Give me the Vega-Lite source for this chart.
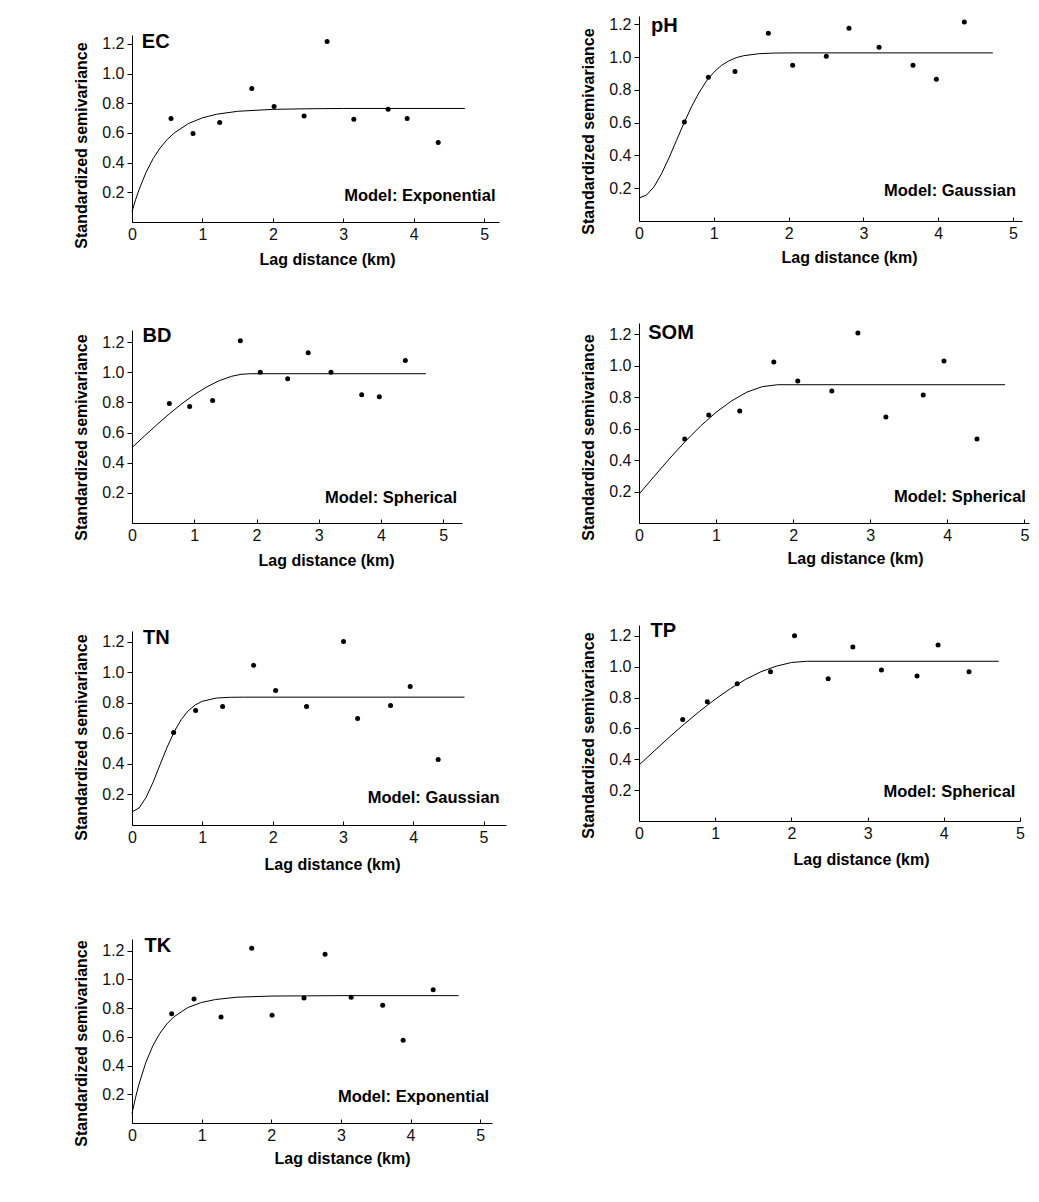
{
"$schema": "https://vega.github.io/schema/vega-lite/v6.json",
"background": "white",
"padding": {"left": 72, "top": 16, "right": 5, "bottom": 5},
"config": {
  "view": {"stroke": null},
  "axis": {"grid": false, "domainColor": "#000", "tickColor": "#000", "domainWidth": 1, "tickWidth": 1,
    "labelFont": "Liberation Sans", "labelFontSize": 16, "labelColor": "#111",
    "titleFont": "Liberation Sans", "titleFontSize": 16, "titleFontWeight": "bold", "titleColor": "#000", "labelOverlap": false},
  "axisX": {"labelFlush": false, "tickSize": -4, "labelPadding": 8, "titleAlign": "center", "titleBaseline": "alphabetic"},
  "axisY": {"tickSize": 5, "labelPadding": 3, "titleX": -46, "titleBaseline": "alphabetic", "titleAlign": "center"}
},
"datasets": {
  "points": [
    {"v":"EC","x":0.554,"y":0.697},{"v":"EC","x":0.866,"y":0.596},{"v":"EC","x":1.245,"y":0.670},{"v":"EC","x":1.70,"y":0.90},{"v":"EC","x":2.017,"y":0.778},{"v":"EC","x":2.443,"y":0.715},{"v":"EC","x":2.77,"y":1.217},{"v":"EC","x":3.149,"y":0.693},{"v":"EC","x":3.636,"y":0.76},{"v":"EC","x":3.906,"y":0.697},{"v":"EC","x":4.347,"y":0.535},
    {"v":"pH","x":0.606,"y":0.603},{"v":"pH","x":0.927,"y":0.876},{"v":"pH","x":1.283,"y":0.912},{"v":"pH","x":1.729,"y":1.145},{"v":"pH","x":2.054,"y":0.949},{"v":"pH","x":2.504,"y":1.004},{"v":"pH","x":2.807,"y":1.175},{"v":"pH","x":3.209,"y":1.059},{"v":"pH","x":3.663,"y":0.949},{"v":"pH","x":3.975,"y":0.864},{"v":"pH","x":4.349,"y":1.214},
    {"v":"BD","x":0.60,"y":0.792},{"v":"BD","x":0.926,"y":0.772},{"v":"BD","x":1.295,"y":0.813},{"v":"BD","x":1.74,"y":1.209},{"v":"BD","x":2.06,"y":0.999},{"v":"BD","x":2.50,"y":0.957},{"v":"BD","x":2.83,"y":1.129},{"v":"BD","x":3.196,"y":0.999},{"v":"BD","x":3.689,"y":0.851},{"v":"BD","x":3.972,"y":0.838},{"v":"BD","x":4.39,"y":1.077},
    {"v":"SOM","x":0.593,"y":0.534},{"v":"SOM","x":0.905,"y":0.686},{"v":"SOM","x":1.307,"y":0.711},{"v":"SOM","x":1.749,"y":1.022},{"v":"SOM","x":2.06,"y":0.902},{"v":"SOM","x":2.502,"y":0.838},{"v":"SOM","x":2.84,"y":1.206},{"v":"SOM","x":3.203,"y":0.673},{"v":"SOM","x":3.688,"y":0.813},{"v":"SOM","x":3.957,"y":1.029},{"v":"SOM","x":4.385,"y":0.534},
    {"v":"TN","x":0.592,"y":0.606},{"v":"TN","x":0.905,"y":0.75},{"v":"TN","x":1.289,"y":0.776},{"v":"TN","x":1.73,"y":1.045},{"v":"TN","x":2.043,"y":0.881},{"v":"TN","x":2.483,"y":0.776},{"v":"TN","x":3.009,"y":1.202},{"v":"TN","x":3.209,"y":0.698},{"v":"TN","x":3.678,"y":0.783},{"v":"TN","x":3.957,"y":0.907},{"v":"TN","x":4.355,"y":0.429},
    {"v":"TP","x":0.573,"y":0.658},{"v":"TP","x":0.896,"y":0.772},{"v":"TP","x":1.289,"y":0.889},{"v":"TP","x":1.726,"y":0.967},{"v":"TP","x":2.041,"y":1.2},{"v":"TP","x":2.483,"y":0.921},{"v":"TP","x":2.806,"y":1.128},{"v":"TP","x":3.182,"y":0.979},{"v":"TP","x":3.649,"y":0.94},{"v":"TP","x":3.925,"y":1.141},{"v":"TP","x":4.331,"y":0.967},
    {"v":"TK","x":0.57,"y":0.76},{"v":"TK","x":0.891,"y":0.862},{"v":"TK","x":1.279,"y":0.737},{"v":"TK","x":1.719,"y":1.216},{"v":"TK","x":2.011,"y":0.75},{"v":"TK","x":2.47,"y":0.87},{"v":"TK","x":2.773,"y":1.174},{"v":"TK","x":3.147,"y":0.874},{"v":"TK","x":3.6,"y":0.819},{"v":"TK","x":3.894,"y":0.575},{"v":"TK","x":4.325,"y":0.927}
  ],
  "model": [
    {"v":"EC","x":0,"y":0.07},{"v":"EC","x":0.05,"y":0.149},{"v":"EC","x":0.1,"y":0.218},{"v":"EC","x":0.2,"y":0.335},{"v":"EC","x":0.3,"y":0.427},{"v":"EC","x":0.4,"y":0.499},{"v":"EC","x":0.5,"y":0.556},{"v":"EC","x":0.6,"y":0.600},{"v":"EC","x":0.8,"y":0.663},{"v":"EC","x":1.0,"y":0.702},{"v":"EC","x":1.2,"y":0.726},{"v":"EC","x":1.5,"y":0.746},{"v":"EC","x":2.0,"y":0.759},{"v":"EC","x":2.5,"y":0.763},{"v":"EC","x":3.0,"y":0.765},{"v":"EC","x":4.725,"y":0.765},
    {"v":"pH","x":0,"y":0.14},{"v":"pH","x":0.1,"y":0.158},{"v":"pH","x":0.2,"y":0.208},{"v":"pH","x":0.3,"y":0.287},{"v":"pH","x":0.4,"y":0.384},{"v":"pH","x":0.5,"y":0.490},{"v":"pH","x":0.6,"y":0.596},{"v":"pH","x":0.7,"y":0.695},{"v":"pH","x":0.8,"y":0.781},{"v":"pH","x":0.9,"y":0.852},{"v":"pH","x":1.0,"y":0.907},{"v":"pH","x":1.1,"y":0.948},{"v":"pH","x":1.2,"y":0.976},{"v":"pH","x":1.3,"y":0.996},{"v":"pH","x":1.4,"y":1.008},{"v":"pH","x":1.6,"y":1.020},{"v":"pH","x":1.8,"y":1.024},{"v":"pH","x":2.0,"y":1.025},{"v":"pH","x":4.73,"y":1.025},
    {"v":"BD","x":0,"y":0.5},{"v":"BD","x":0.2,"y":0.577},{"v":"BD","x":0.4,"y":0.652},{"v":"BD","x":0.6,"y":0.724},{"v":"BD","x":0.8,"y":0.791},{"v":"BD","x":1.0,"y":0.851},{"v":"BD","x":1.2,"y":0.902},{"v":"BD","x":1.4,"y":0.944},{"v":"BD","x":1.6,"y":0.973},{"v":"BD","x":1.75,"y":0.986},{"v":"BD","x":1.9,"y":0.99},{"v":"BD","x":4.72,"y":0.99},
    {"v":"SOM","x":0,"y":0.183},{"v":"SOM","x":0.2,"y":0.298},{"v":"SOM","x":0.4,"y":0.411},{"v":"SOM","x":0.6,"y":0.518},{"v":"SOM","x":0.8,"y":0.616},{"v":"SOM","x":1.0,"y":0.703},{"v":"SOM","x":1.2,"y":0.775},{"v":"SOM","x":1.4,"y":0.831},{"v":"SOM","x":1.6,"y":0.866},{"v":"SOM","x":1.8,"y":0.878},{"v":"SOM","x":4.75,"y":0.878},
    {"v":"TN","x":0,"y":0.086},{"v":"TN","x":0.1,"y":0.111},{"v":"TN","x":0.2,"y":0.180},{"v":"TN","x":0.3,"y":0.280},{"v":"TN","x":0.4,"y":0.396},{"v":"TN","x":0.5,"y":0.510},{"v":"TN","x":0.6,"y":0.610},{"v":"TN","x":0.7,"y":0.690},{"v":"TN","x":0.8,"y":0.748},{"v":"TN","x":0.9,"y":0.786},{"v":"TN","x":1.0,"y":0.810},{"v":"TN","x":1.2,"y":0.831},{"v":"TN","x":1.4,"y":0.836},{"v":"TN","x":1.6,"y":0.837},{"v":"TN","x":4.73,"y":0.837},
    {"v":"TP","x":0,"y":0.362},{"v":"TP","x":0.2,"y":0.454},{"v":"TP","x":0.4,"y":0.544},{"v":"TP","x":0.6,"y":0.631},{"v":"TP","x":0.8,"y":0.713},{"v":"TP","x":1.0,"y":0.789},{"v":"TP","x":1.2,"y":0.858},{"v":"TP","x":1.4,"y":0.918},{"v":"TP","x":1.6,"y":0.967},{"v":"TP","x":1.8,"y":1.003},{"v":"TP","x":2.0,"y":1.027},{"v":"TP","x":2.2,"y":1.035},{"v":"TP","x":4.72,"y":1.035},
    {"v":"TK","x":0,"y":0.066},{"v":"TK","x":0.05,"y":0.175},{"v":"TK","x":0.1,"y":0.270},{"v":"TK","x":0.2,"y":0.423},{"v":"TK","x":0.3,"y":0.538},{"v":"TK","x":0.4,"y":0.624},{"v":"TK","x":0.5,"y":0.689},{"v":"TK","x":0.6,"y":0.738},{"v":"TK","x":0.8,"y":0.803},{"v":"TK","x":1.0,"y":0.839},{"v":"TK","x":1.2,"y":0.859},{"v":"TK","x":1.5,"y":0.875},{"v":"TK","x":2.0,"y":0.883},{"v":"TK","x":3.0,"y":0.886},{"v":"TK","x":4.69,"y":0.886}
  ],
  "labels": [
    {"v":"EC","k":"name","t":"EC","x":0.14,"y":1.17},{"v":"EC","k":"model","t":"Model: Exponential","x":5.16,"y":0.14},
    {"v":"pH","k":"name","t":"pH","x":0.16,"y":1.15},{"v":"pH","k":"model","t":"Model: Gaussian","x":5.04,"y":0.155},
    {"v":"BD","k":"name","t":"BD","x":0.17,"y":1.2},{"v":"BD","k":"model","t":"Model: Spherical","x":5.22,"y":0.134},
    {"v":"SOM","k":"name","t":"SOM","x":0.12,"y":1.168},{"v":"SOM","k":"model","t":"Model: Spherical","x":5.02,"y":0.132},
    {"v":"TN","k":"name","t":"TN","x":0.156,"y":1.186},{"v":"TN","k":"model","t":"Model: Gaussian","x":5.23,"y":0.145},
    {"v":"TP","k":"name","t":"TP","x":0.15,"y":1.19},{"v":"TP","k":"model","t":"Model: Spherical","x":4.94,"y":0.157},
    {"v":"TK","k":"name","t":"TK","x":0.18,"y":1.19},{"v":"TK","k":"model","t":"Model: Exponential","x":5.13,"y":0.147}
  ]
},
"spacing": 73,
"hconcat": [
  {"spacing": 63, "vconcat": [
    {"spacing": 0, "vconcat": [
      {"width": 1, "height": 16, "data": {"values": [{"a": 0}]}, "mark": {"type": "point", "opacity": 0}},
      {"bounds": "flush", "spacing": 108, "vconcat": [
        {"width": 367, "height": 187, "layer": [
          {"data": {"name": "model"}, "transform": [{"filter": "datum.v === 'EC'"}], "mark": {"type": "line", "color": "#000", "strokeWidth": 1},
           "encoding": {"x": {"field": "x", "type": "quantitative", "title": "Lag distance (km)", "scale": {"domain": [0, 5.21], "nice": false}, "axis": {"values": [0,0.5,1,1.5,2,2.5,3,3.5,4,4.5,5], "tickCount": 30, "format": "d", "labelExpr": "datum.value % 1 === 0 ? datum.label : ''", "labelOverlap": false, "titleX": 195, "titleY": 42}},
                        "y": {"field": "y", "type": "quantitative", "title": "Standardized semivariance", "scale": {"domain": [0, 1.26], "nice": false}, "axis": {"values": [0.2,0.4,0.6,0.8,1,1.2], "tickCount": 30, "format": ".1f", "labelOverlap": false, "titleY": 110}}}},
          {"data": {"name": "points"}, "transform": [{"filter": "datum.v === 'EC'"}], "mark": {"type": "circle", "color": "#000", "size": 25, "opacity": 1},
           "encoding": {"x": {"field": "x", "type": "quantitative", "title": "Lag distance (km)"}, "y": {"field": "y", "type": "quantitative", "title": "Standardized semivariance"}}},
          {"data": {"name": "labels"}, "transform": [{"filter": "datum.v === 'EC' && datum.k === 'name'"}], "mark": {"type": "text", "font": "Liberation Sans", "fontSize": 20, "fontWeight": "bold", "align": "left", "baseline": "alphabetic", "color": "#000"},
           "encoding": {"x": {"field": "x", "type": "quantitative", "title": "Lag distance (km)"}, "y": {"field": "y", "type": "quantitative", "title": "Standardized semivariance"}, "text": {"field": "t"}}},
          {"data": {"name": "labels"}, "transform": [{"filter": "datum.v === 'EC' && datum.k === 'model'"}], "mark": {"type": "text", "font": "Liberation Sans", "fontSize": 16.5, "fontWeight": "bold", "align": "right", "baseline": "alphabetic", "color": "#000"},
           "encoding": {"x": {"field": "x", "type": "quantitative", "title": "Lag distance (km)"}, "y": {"field": "y", "type": "quantitative", "title": "Standardized semivariance"}, "text": {"field": "t"}}}
        ]},
        {"width": 330, "height": 193, "layer": [
          {"data": {"name": "model"}, "transform": [{"filter": "datum.v === 'BD'"}], "mark": {"type": "line", "color": "#000", "strokeWidth": 1},
           "encoding": {"x": {"field": "x", "type": "quantitative", "title": "Lag distance (km)", "scale": {"domain": [0, 5.3], "nice": false}, "axis": {"values": [0,0.5,1,1.5,2,2.5,3,3.5,4,4.5,5], "tickCount": 30, "format": "d", "labelExpr": "datum.value % 1 === 0 ? datum.label : ''", "labelOverlap": false, "titleX": 194, "titleY": 42}},
                        "y": {"field": "y", "type": "quantitative", "title": "Standardized semivariance", "scale": {"domain": [0, 1.28], "nice": false}, "axis": {"values": [0.2,0.4,0.6,0.8,1,1.2], "tickCount": 30, "format": ".1f", "labelOverlap": false, "titleY": 107}}}},
          {"data": {"name": "points"}, "transform": [{"filter": "datum.v === 'BD'"}], "mark": {"type": "circle", "color": "#000", "size": 25, "opacity": 1},
           "encoding": {"x": {"field": "x", "type": "quantitative", "title": "Lag distance (km)"}, "y": {"field": "y", "type": "quantitative", "title": "Standardized semivariance"}}},
          {"data": {"name": "labels"}, "transform": [{"filter": "datum.v === 'BD' && datum.k === 'name'"}], "mark": {"type": "text", "font": "Liberation Sans", "fontSize": 20, "fontWeight": "bold", "align": "left", "baseline": "alphabetic", "color": "#000"},
           "encoding": {"x": {"field": "x", "type": "quantitative", "title": "Lag distance (km)"}, "y": {"field": "y", "type": "quantitative", "title": "Standardized semivariance"}, "text": {"field": "t"}}},
          {"data": {"name": "labels"}, "transform": [{"filter": "datum.v === 'BD' && datum.k === 'model'"}], "mark": {"type": "text", "font": "Liberation Sans", "fontSize": 16.5, "fontWeight": "bold", "align": "right", "baseline": "alphabetic", "color": "#000"},
           "encoding": {"x": {"field": "x", "type": "quantitative", "title": "Lag distance (km)"}, "y": {"field": "y", "type": "quantitative", "title": "Standardized semivariance"}, "text": {"field": "t"}}}
        ]},
        {"width": 374, "height": 194, "layer": [
          {"data": {"name": "model"}, "transform": [{"filter": "datum.v === 'TN'"}], "mark": {"type": "line", "color": "#000", "strokeWidth": 1},
           "encoding": {"x": {"field": "x", "type": "quantitative", "title": "Lag distance (km)", "scale": {"domain": [0, 5.32], "nice": false}, "axis": {"values": [0,0.5,1,1.5,2,2.5,3,3.5,4,4.5,5], "tickCount": 30, "format": "d", "labelExpr": "datum.value % 1 === 0 ? datum.label : ''", "labelOverlap": false, "titleX": 200, "titleY": 44}},
                        "y": {"field": "y", "type": "quantitative", "title": "Standardized semivariance", "scale": {"domain": [0, 1.27], "nice": false}, "axis": {"values": [0.2,0.4,0.6,0.8,1,1.2], "tickCount": 30, "format": ".1f", "labelOverlap": false, "titleY": 106}}}},
          {"data": {"name": "points"}, "transform": [{"filter": "datum.v === 'TN'"}], "mark": {"type": "circle", "color": "#000", "size": 25, "opacity": 1},
           "encoding": {"x": {"field": "x", "type": "quantitative", "title": "Lag distance (km)"}, "y": {"field": "y", "type": "quantitative", "title": "Standardized semivariance"}}},
          {"data": {"name": "labels"}, "transform": [{"filter": "datum.v === 'TN' && datum.k === 'name'"}], "mark": {"type": "text", "font": "Liberation Sans", "fontSize": 20, "fontWeight": "bold", "align": "left", "baseline": "alphabetic", "color": "#000"},
           "encoding": {"x": {"field": "x", "type": "quantitative", "title": "Lag distance (km)"}, "y": {"field": "y", "type": "quantitative", "title": "Standardized semivariance"}, "text": {"field": "t"}}},
          {"data": {"name": "labels"}, "transform": [{"filter": "datum.v === 'TN' && datum.k === 'model'"}], "mark": {"type": "text", "font": "Liberation Sans", "fontSize": 16.5, "fontWeight": "bold", "align": "right", "baseline": "alphabetic", "color": "#000"},
           "encoding": {"x": {"field": "x", "type": "quantitative", "title": "Lag distance (km)"}, "y": {"field": "y", "type": "quantitative", "title": "Standardized semivariance"}, "text": {"field": "t"}}}
        ]}
      ]}
    ]},
    {"width": 360, "height": 184, "layer": [
      {"data": {"name": "model"}, "transform": [{"filter": "datum.v === 'TK'"}], "mark": {"type": "line", "color": "#000", "strokeWidth": 1},
       "encoding": {"x": {"field": "x", "type": "quantitative", "title": "Lag distance (km)", "scale": {"domain": [0, 5.17], "nice": false}, "axis": {"values": [0,0.5,1,1.5,2,2.5,3,3.5,4,4.5,5], "tickCount": 30, "format": "d", "labelExpr": "datum.value % 1 === 0 ? datum.label : ''", "labelOverlap": false, "titleX": 210, "titleY": 40}},
                    "y": {"field": "y", "type": "quantitative", "title": "Standardized semivariance", "scale": {"domain": [0, 1.28], "nice": false}, "axis": {"values": [0.2,0.4,0.6,0.8,1,1.2], "tickCount": 30, "format": ".1f", "labelOverlap": false, "titleY": 104}}}},
      {"data": {"name": "points"}, "transform": [{"filter": "datum.v === 'TK'"}], "mark": {"type": "circle", "color": "#000", "size": 25, "opacity": 1},
       "encoding": {"x": {"field": "x", "type": "quantitative", "title": "Lag distance (km)"}, "y": {"field": "y", "type": "quantitative", "title": "Standardized semivariance"}}},
      {"data": {"name": "labels"}, "transform": [{"filter": "datum.v === 'TK' && datum.k === 'name'"}], "mark": {"type": "text", "font": "Liberation Sans", "fontSize": 20, "fontWeight": "bold", "align": "left", "baseline": "alphabetic", "color": "#000"},
       "encoding": {"x": {"field": "x", "type": "quantitative", "title": "Lag distance (km)"}, "y": {"field": "y", "type": "quantitative", "title": "Standardized semivariance"}, "text": {"field": "t"}}},
      {"data": {"name": "labels"}, "transform": [{"filter": "datum.v === 'TK' && datum.k === 'model'"}], "mark": {"type": "text", "font": "Liberation Sans", "fontSize": 16.5, "fontWeight": "bold", "align": "right", "baseline": "alphabetic", "color": "#000"},
       "encoding": {"x": {"field": "x", "type": "quantitative", "title": "Lag distance (km)"}, "y": {"field": "y", "type": "quantitative", "title": "Standardized semivariance"}, "text": {"field": "t"}}}
    ]}
  ]},
  {"bounds": "flush", "spacing": 102, "vconcat": [
    {"width": 383, "height": 205, "layer": [
      {"data": {"name": "model"}, "transform": [{"filter": "datum.v === 'pH'"}], "mark": {"type": "line", "color": "#000", "strokeWidth": 1},
       "encoding": {"x": {"field": "x", "type": "quantitative", "title": "Lag distance (km)", "scale": {"domain": [0, 5.12], "nice": false}, "axis": {"values": [0,0.5,1,1.5,2,2.5,3,3.5,4,4.5,5], "tickCount": 30, "format": "d", "labelExpr": "datum.value % 1 === 0 ? datum.label : ''", "labelOverlap": false, "titleX": 210, "titleY": 41}},
                    "y": {"field": "y", "type": "quantitative", "title": "Standardized semivariance", "scale": {"domain": [0, 1.25], "nice": false}, "axis": {"values": [0.2,0.4,0.6,0.8,1,1.2], "tickCount": 30, "format": ".1f", "labelOverlap": false, "titleY": 115}}}},
      {"data": {"name": "points"}, "transform": [{"filter": "datum.v === 'pH'"}], "mark": {"type": "circle", "color": "#000", "size": 25, "opacity": 1},
       "encoding": {"x": {"field": "x", "type": "quantitative", "title": "Lag distance (km)"}, "y": {"field": "y", "type": "quantitative", "title": "Standardized semivariance"}}},
      {"data": {"name": "labels"}, "transform": [{"filter": "datum.v === 'pH' && datum.k === 'name'"}], "mark": {"type": "text", "font": "Liberation Sans", "fontSize": 20, "fontWeight": "bold", "align": "left", "baseline": "alphabetic", "color": "#000"},
       "encoding": {"x": {"field": "x", "type": "quantitative", "title": "Lag distance (km)"}, "y": {"field": "y", "type": "quantitative", "title": "Standardized semivariance"}, "text": {"field": "t"}}},
      {"data": {"name": "labels"}, "transform": [{"filter": "datum.v === 'pH' && datum.k === 'model'"}], "mark": {"type": "text", "font": "Liberation Sans", "fontSize": 16.5, "fontWeight": "bold", "align": "right", "baseline": "alphabetic", "color": "#000"},
       "encoding": {"x": {"field": "x", "type": "quantitative", "title": "Lag distance (km)"}, "y": {"field": "y", "type": "quantitative", "title": "Standardized semivariance"}, "text": {"field": "t"}}}
    ]},
    {"width": 390, "height": 200, "layer": [
      {"data": {"name": "model"}, "transform": [{"filter": "datum.v === 'SOM'"}], "mark": {"type": "line", "color": "#000", "strokeWidth": 1},
       "encoding": {"x": {"field": "x", "type": "quantitative", "title": "Lag distance (km)", "scale": {"domain": [0, 5.06], "nice": false}, "axis": {"values": [0,0.5,1,1.5,2,2.5,3,3.5,4,4.5,5], "tickCount": 30, "format": "d", "labelExpr": "datum.value % 1 === 0 ? datum.label : ''", "labelOverlap": false, "titleX": 216, "titleY": 40}},
                    "y": {"field": "y", "type": "quantitative", "title": "Standardized semivariance", "scale": {"domain": [0, 1.27], "nice": false}, "axis": {"values": [0.2,0.4,0.6,0.8,1,1.2], "tickCount": 30, "format": ".1f", "labelOverlap": false, "titleY": 114}}}},
      {"data": {"name": "points"}, "transform": [{"filter": "datum.v === 'SOM'"}], "mark": {"type": "circle", "color": "#000", "size": 25, "opacity": 1},
       "encoding": {"x": {"field": "x", "type": "quantitative", "title": "Lag distance (km)"}, "y": {"field": "y", "type": "quantitative", "title": "Standardized semivariance"}}},
      {"data": {"name": "labels"}, "transform": [{"filter": "datum.v === 'SOM' && datum.k === 'name'"}], "mark": {"type": "text", "font": "Liberation Sans", "fontSize": 20, "fontWeight": "bold", "align": "left", "baseline": "alphabetic", "color": "#000"},
       "encoding": {"x": {"field": "x", "type": "quantitative", "title": "Lag distance (km)"}, "y": {"field": "y", "type": "quantitative", "title": "Standardized semivariance"}, "text": {"field": "t"}}},
      {"data": {"name": "labels"}, "transform": [{"filter": "datum.v === 'SOM' && datum.k === 'model'"}], "mark": {"type": "text", "font": "Liberation Sans", "fontSize": 16.5, "fontWeight": "bold", "align": "right", "baseline": "alphabetic", "color": "#000"},
       "encoding": {"x": {"field": "x", "type": "quantitative", "title": "Lag distance (km)"}, "y": {"field": "y", "type": "quantitative", "title": "Standardized semivariance"}, "text": {"field": "t"}}}
    ]},
    {"width": 381, "height": 196, "layer": [
      {"data": {"name": "model"}, "transform": [{"filter": "datum.v === 'TP'"}], "mark": {"type": "line", "color": "#000", "strokeWidth": 1},
       "encoding": {"x": {"field": "x", "type": "quantitative", "title": "Lag distance (km)", "scale": {"domain": [0, 5.0], "nice": false}, "axis": {"values": [0,0.5,1,1.5,2,2.5,3,3.5,4,4.5,5], "tickCount": 30, "format": "d", "labelExpr": "datum.value % 1 === 0 ? datum.label : ''", "labelOverlap": false, "titleX": 222, "titleY": 43}},
                    "y": {"field": "y", "type": "quantitative", "title": "Standardized semivariance", "scale": {"domain": [0, 1.27], "nice": false}, "axis": {"values": [0.2,0.4,0.6,0.8,1,1.2], "tickCount": 30, "format": ".1f", "labelOverlap": false, "titleY": 110}}}},
      {"data": {"name": "points"}, "transform": [{"filter": "datum.v === 'TP'"}], "mark": {"type": "circle", "color": "#000", "size": 25, "opacity": 1},
       "encoding": {"x": {"field": "x", "type": "quantitative", "title": "Lag distance (km)"}, "y": {"field": "y", "type": "quantitative", "title": "Standardized semivariance"}}},
      {"data": {"name": "labels"}, "transform": [{"filter": "datum.v === 'TP' && datum.k === 'name'"}], "mark": {"type": "text", "font": "Liberation Sans", "fontSize": 20, "fontWeight": "bold", "align": "left", "baseline": "alphabetic", "color": "#000"},
       "encoding": {"x": {"field": "x", "type": "quantitative", "title": "Lag distance (km)"}, "y": {"field": "y", "type": "quantitative", "title": "Standardized semivariance"}, "text": {"field": "t"}}},
      {"data": {"name": "labels"}, "transform": [{"filter": "datum.v === 'TP' && datum.k === 'model'"}], "mark": {"type": "text", "font": "Liberation Sans", "fontSize": 16.5, "fontWeight": "bold", "align": "right", "baseline": "alphabetic", "color": "#000"},
       "encoding": {"x": {"field": "x", "type": "quantitative", "title": "Lag distance (km)"}, "y": {"field": "y", "type": "quantitative", "title": "Standardized semivariance"}, "text": {"field": "t"}}}
    ]}
  ]}
]
}
